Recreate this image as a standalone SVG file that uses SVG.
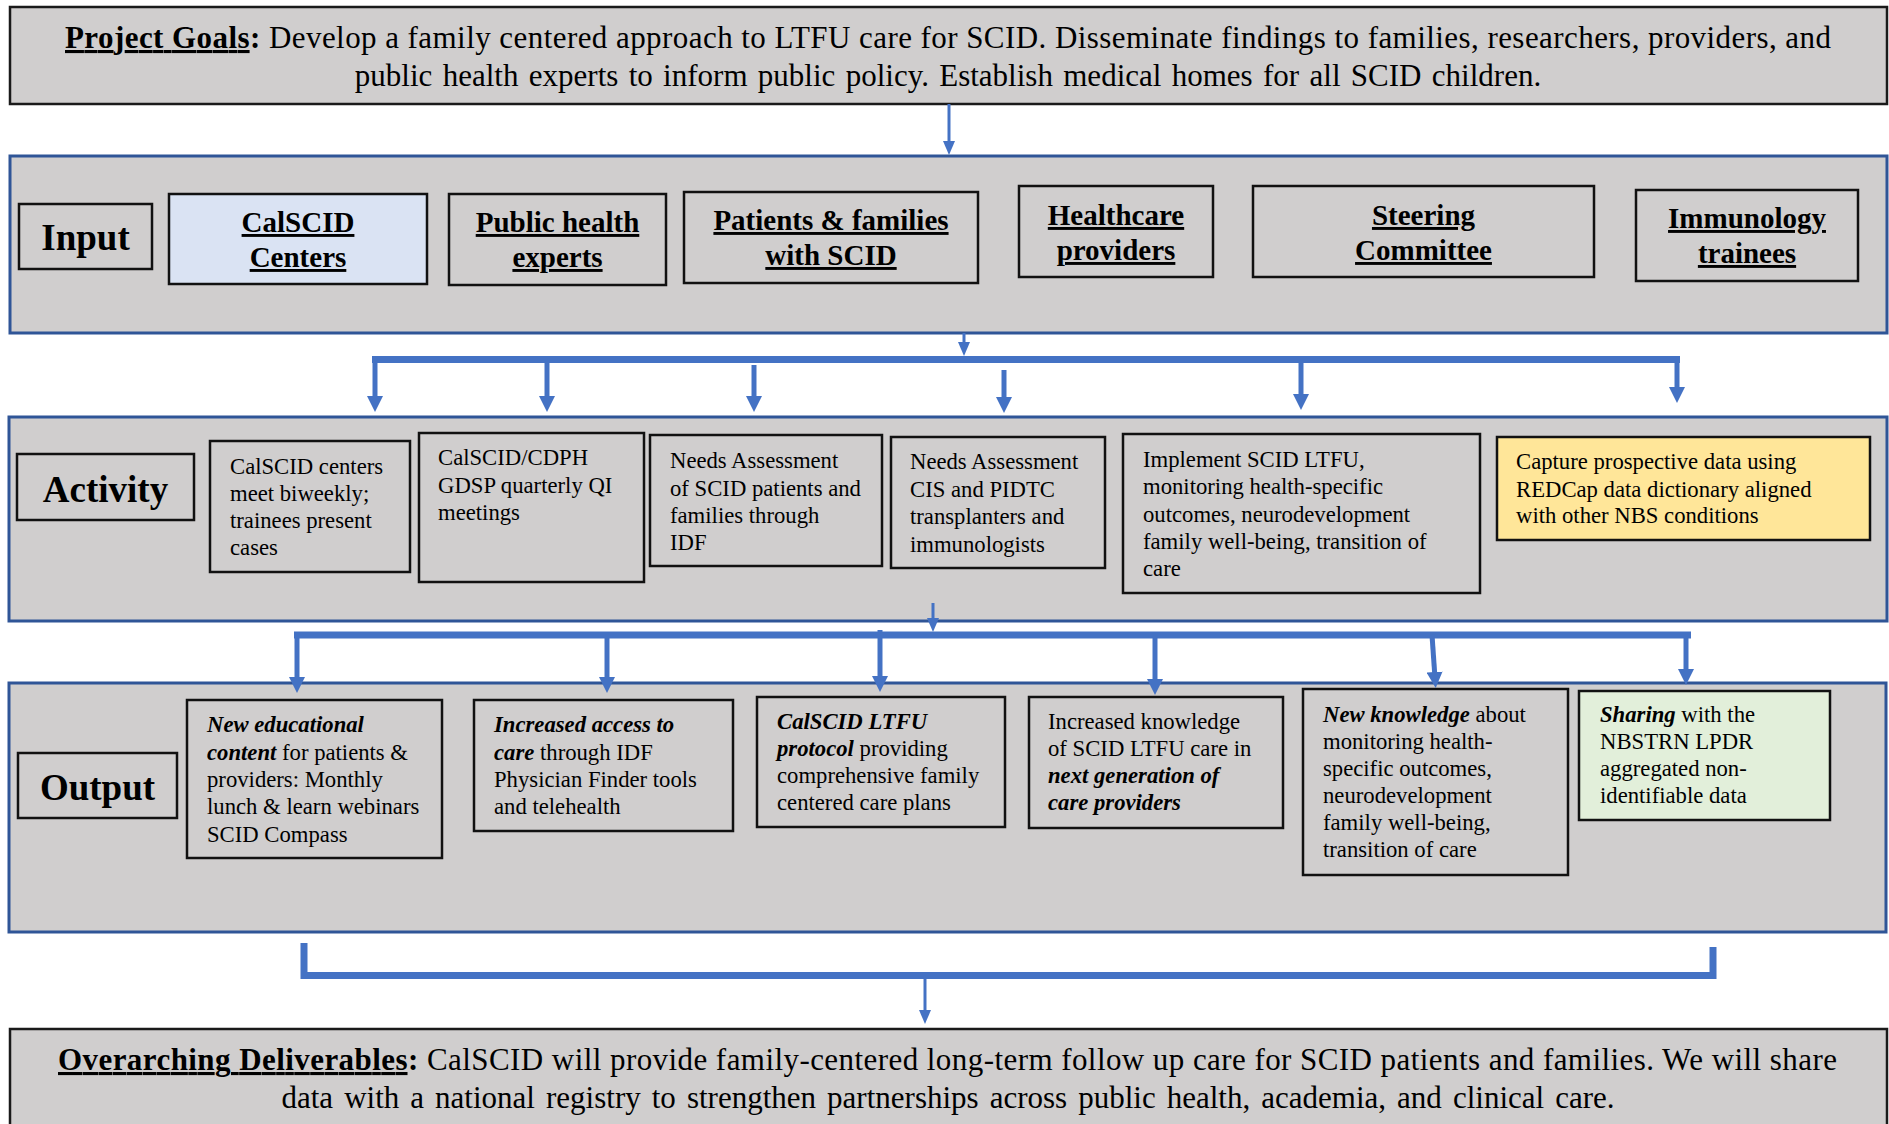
<svg xmlns="http://www.w3.org/2000/svg" width="1889" height="1124" viewBox="0 0 1889 1124">
<style>
text{font-family:"Liberation Serif","Times New Roman",serif;fill:#000}
.big{font-size:31px}
.lbl{font-size:37px;font-weight:bold}
.hd{font-size:29px;font-weight:bold;text-decoration:underline}
.bx{font-size:22.7px}
.bi{font-weight:bold;font-style:italic}
.b{font-weight:bold}
.u{text-decoration:underline}
.panel{fill:#d0cece;stroke:#2f5597;stroke-width:3}
.gbox{fill:#d0cece;stroke:#1a1a1a;stroke-width:2.5}
.node{fill:#d0cece;stroke:#111;stroke-width:2.5}
.conn{fill:none;stroke:#4472c4}
.thin{stroke-width:3}
.thick{stroke-width:5}
.bar{stroke-width:7}
</style>
<defs>
<marker id="ah" viewBox="0 0 16 16" markerWidth="16" markerHeight="16" refX="6" refY="8" orient="auto" markerUnits="userSpaceOnUse"><path d="M0,0 L16,8 L0,16 z" fill="#4472c4"/></marker>
<marker id="ahs" viewBox="0 0 14 12" markerWidth="14" markerHeight="12" refX="4" refY="6" orient="auto" markerUnits="userSpaceOnUse"><path d="M0,0 L14,6 L0,12 z" fill="#4472c4"/></marker>
</defs>
<rect width="1889" height="1124" fill="#ffffff"/>

<!-- panels -->
<g id="goals">
<rect class="gbox" x="10" y="7" width="1877" height="97"/>
<text class="big" x="65" y="48" textLength="1766" lengthAdjust="spacing"><tspan class="b u">Project Goals</tspan><tspan class="b">:</tspan> Develop a family centered approach to LTFU care for SCID. Disseminate findings to families, researchers, providers, and</text>
<text class="big" x="948" y="86" text-anchor="middle" word-spacing="2.6">public health experts to inform public policy. Establish medical homes for all SCID children.</text>
</g>
<g id="input-panel"><rect class="panel" x="10" y="156" width="1877" height="177"/></g>
<g id="activity-panel"><rect class="panel" x="9" y="417" width="1878" height="204"/></g>
<g id="output-panel"><rect class="panel" x="9" y="683" width="1877" height="249"/></g>
<g id="deliverables">
<rect class="gbox" x="10" y="1029" width="1877" height="110"/>
<text class="big" x="58" y="1070" textLength="1779" lengthAdjust="spacing"><tspan class="b u">Overarching Deliverables</tspan><tspan class="b">:</tspan> CalSCID will provide family-centered long-term follow up care for SCID patients and families. We will share</text>
<text class="big" x="948" y="1108" text-anchor="middle" word-spacing="3.3">data with a national registry to strengthen partnerships across public health, academia, and clinical care.</text>
</g>

<!-- input row -->
<g id="input-label"><rect class="node" x="19" y="204" width="133" height="65"/><text class="lbl" x="85.5" y="250" text-anchor="middle">Input</text></g>
<g id="in-calscid"><rect x="169" y="194" width="258" height="90" fill="#dae3f3" stroke="#111" stroke-width="2.5"/><text class="hd" x="298" y="232" text-anchor="middle">CalSCID</text><text class="hd" x="298" y="267" text-anchor="middle">Centers</text></g>
<g id="in-public"><rect class="node" x="449" y="194" width="217" height="91"/><text class="hd" x="557.5" y="232" text-anchor="middle">Public health</text><text class="hd" x="557.5" y="267" text-anchor="middle">experts</text></g>
<g id="in-patients"><rect class="node" x="684" y="192" width="294" height="91"/><text class="hd" x="831" y="230" text-anchor="middle">Patients &amp; families</text><text class="hd" x="831" y="265" text-anchor="middle">with SCID</text></g>
<g id="in-healthcare"><rect class="node" x="1019" y="186" width="194" height="91"/><text class="hd" x="1116" y="225" text-anchor="middle">Healthcare</text><text class="hd" x="1116" y="260" text-anchor="middle">providers</text></g>
<g id="in-steering"><rect class="node" x="1253" y="186" width="341" height="91"/><text class="hd" x="1423.5" y="225" text-anchor="middle">Steering</text><text class="hd" x="1423.5" y="260" text-anchor="middle">Committee</text></g>
<g id="in-immunology"><rect class="node" x="1636" y="190" width="222" height="91"/><text class="hd" x="1747" y="228" text-anchor="middle">Immunology</text><text class="hd" x="1747" y="263" text-anchor="middle">trainees</text></g>

<!-- activity row -->
<g id="activity-label"><rect class="node" x="17" y="454" width="177" height="66"/><text class="lbl" x="105.5" y="502" text-anchor="middle">Activity</text></g>
<g id="act-1"><rect class="node" x="210" y="441" width="200" height="131"/>
<text class="bx" x="230" y="474">CalSCID centers</text><text class="bx" x="230" y="501">meet biweekly;</text><text class="bx" x="230" y="528">trainees present</text><text class="bx" x="230" y="555">cases</text></g>
<g id="act-2"><rect class="node" x="419" y="433" width="225" height="149"/>
<text class="bx" x="438" y="465">CalSCID/CDPH</text><text class="bx" x="438" y="493">GDSP quarterly QI</text><text class="bx" x="438" y="520">meetings</text></g>
<g id="act-3"><rect class="node" x="650" y="435" width="232" height="131"/>
<text class="bx" x="670" y="468">Needs Assessment</text><text class="bx" x="670" y="496">of SCID patients and</text><text class="bx" x="670" y="523">families through</text><text class="bx" x="670" y="550">IDF</text></g>
<g id="act-4"><rect class="node" x="891" y="437" width="214" height="131"/>
<text class="bx" x="910" y="469">Needs Assessment</text><text class="bx" x="910" y="497">CIS and PIDTC</text><text class="bx" x="910" y="524">transplanters and</text><text class="bx" x="910" y="552">immunologists</text></g>
<g id="act-5"><rect class="node" x="1123" y="434" width="357" height="159"/>
<text class="bx" x="1143" y="467">Implement SCID LTFU,</text><text class="bx" x="1143" y="494">monitoring health-specific</text><text class="bx" x="1143" y="522">outcomes, neurodevelopment</text><text class="bx" x="1143" y="549">family well-being, transition of</text><text class="bx" x="1143" y="576">care</text></g>
<g id="act-6"><rect x="1497" y="437" width="373" height="103" fill="#ffe699" stroke="#111" stroke-width="2.5"/>
<text class="bx" x="1516" y="469">Capture prospective data using</text><text class="bx" x="1516" y="497">REDCap data dictionary aligned</text><text class="bx" x="1516" y="523">with other NBS conditions</text></g>

<!-- output row -->
<g id="output-label"><rect class="node" x="18" y="753" width="159" height="65"/><text class="lbl" x="97.5" y="800" text-anchor="middle">Output</text></g>
<g id="out-1"><rect class="node" x="187" y="700" width="255" height="158"/>
<text class="bx" x="207" y="732"><tspan class="bi">New educational</tspan></text><text class="bx" x="207" y="760"><tspan class="bi">content</tspan> for patients &amp;</text><text class="bx" x="207" y="787">providers: Monthly</text><text class="bx" x="207" y="814">lunch &amp; learn webinars</text><text class="bx" x="207" y="842">SCID Compass</text></g>
<g id="out-2"><rect class="node" x="474" y="700" width="259" height="131"/>
<text class="bx" x="494" y="732"><tspan class="bi">Increased access to</tspan></text><text class="bx" x="494" y="760"><tspan class="bi">care</tspan> through IDF</text><text class="bx" x="494" y="787">Physician Finder tools</text><text class="bx" x="494" y="814">and telehealth</text></g>
<g id="out-3"><rect class="node" x="757" y="697" width="248" height="130"/>
<text class="bx" x="777" y="729"><tspan class="bi">CalSCID LTFU</tspan></text><text class="bx" x="777" y="756"><tspan class="bi">protocol</tspan> providing</text><text class="bx" x="777" y="783">comprehensive family</text><text class="bx" x="777" y="810">centered care plans</text></g>
<g id="out-4"><rect class="node" x="1029" y="697" width="254" height="131"/>
<text class="bx" x="1048" y="729">Increased knowledge</text><text class="bx" x="1048" y="756">of SCID LTFU care in</text><text class="bx" x="1048" y="783"><tspan class="bi">next generation of</tspan></text><text class="bx" x="1048" y="810"><tspan class="bi">care providers</tspan></text></g>
<g id="out-5"><rect class="node" x="1303" y="689" width="265" height="186"/>
<text class="bx" x="1323" y="722"><tspan class="bi">New knowledge</tspan> about</text><text class="bx" x="1323" y="749">monitoring health-</text><text class="bx" x="1323" y="776">specific outcomes,</text><text class="bx" x="1323" y="803">neurodevelopment</text><text class="bx" x="1323" y="830">family well-being,</text><text class="bx" x="1323" y="857">transition of care</text></g>
<g id="out-6"><rect x="1579" y="691" width="251" height="129" fill="#e2efda" stroke="#111" stroke-width="2.5"/>
<text class="bx" x="1600" y="722"><tspan class="bi">Sharing</tspan> with the</text><text class="bx" x="1600" y="749">NBSTRN LPDR</text><text class="bx" x="1600" y="776">aggregated non-</text><text class="bx" x="1600" y="803">identifiable data</text></g>

<!-- connectors -->
<g id="connectors">
<path class="conn thin" d="M949,104 V145" marker-end="url(#ahs)"/>
<path class="conn thin" d="M964,333 V346" marker-end="url(#ahs)"/>
<path class="conn bar" d="M372,359.5 H1680"/>
<path class="conn thick" d="M375,360 V402" marker-end="url(#ah)"/>
<path class="conn thick" d="M547,360 V402" marker-end="url(#ah)"/>
<path class="conn thick" d="M754,365 V402" marker-end="url(#ah)"/>
<path class="conn thick" d="M1004,370 V403" marker-end="url(#ah)"/>
<path class="conn thick" d="M1301,360 V400" marker-end="url(#ah)"/>
<path class="conn thick" d="M1677,360 V393" marker-end="url(#ah)"/>
<path class="conn thin" d="M933,603 V622" marker-end="url(#ahs)"/>
<path class="conn bar" d="M294,635 H1691"/>
<path class="conn thick" d="M297,635 V683" marker-end="url(#ah)"/>
<path class="conn thick" d="M607,635 V683" marker-end="url(#ah)"/>
<path class="conn thick" d="M880,630 V682" marker-end="url(#ah)"/>
<path class="conn thick" d="M1155,635 V685" marker-end="url(#ah)"/>
<path class="conn thick" d="M1432,635 L1435,678" marker-end="url(#ah)"/>
<path class="conn thick" d="M1686,635 V675" marker-end="url(#ah)"/>
<path class="conn bar" d="M304,943 V975.5 H1713 V947"/>
<path class="conn thin" d="M925,979 V1014" marker-end="url(#ahs)"/>
</g>
</svg>
